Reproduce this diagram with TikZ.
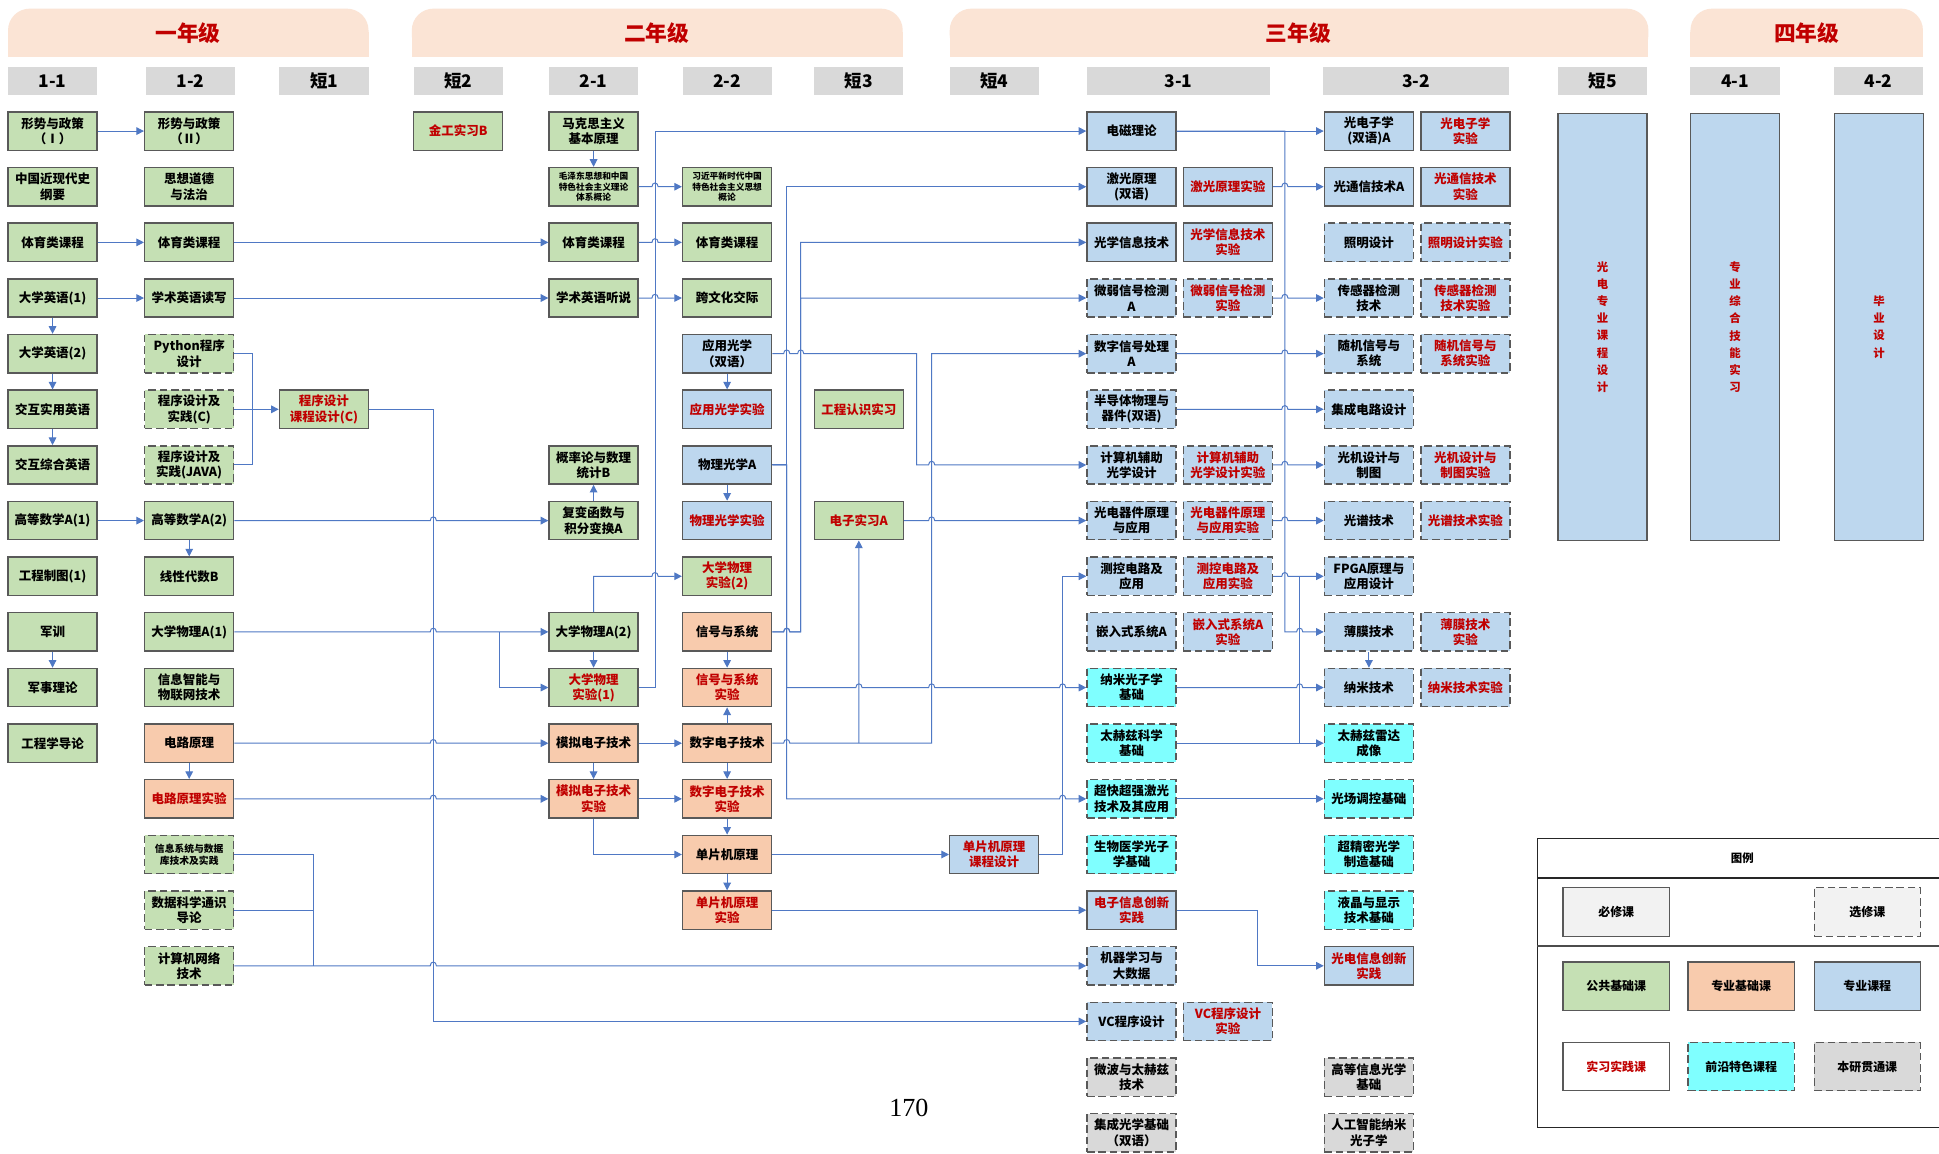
\documentclass[tikz,border=0pt]{standalone}
\usepackage{fontspec}
\setmainfont{Liberation Serif}
\newfontfamily\cjk{Noto Sans CJK SC}
\usetikzlibrary{arrows.meta}
\definecolor{gfill}{HTML}{C5E0B4}
\definecolor{ofill}{HTML}{F8CBAD}
\definecolor{bfill}{HTML}{BDD7EE}
\definecolor{cfill}{HTML}{7FFFFF}
\definecolor{yfill}{HTML}{D9D9D9}
\definecolor{lfill}{HTML}{F2F2F2}
\definecolor{redc}{HTML}{C00000}
\definecolor{bordc}{HTML}{595959}
\definecolor{linec}{HTML}{4F78C4}
\definecolor{banc}{HTML}{FBE4D5}
\definecolor{hdrc}{HTML}{D9D9D9}
\newcommand\J[2]{-- ({#1-2.5},#2) .. controls ({#1-2.5},{#2-4}) and ({#1+2.5},{#2-4}) .. ({#1+2.5},#2)}
\begin{document}
\begin{tikzpicture}[x=0.04cm,y=-0.04cm,
  box/.style={draw=bordc,line width=1.3pt,minimum width=2.88cm,minimum height=1.24cm,inner sep=1pt,align=center,
    font=\cjk\bfseries\fontsize{11.5}{14}\selectfont,text=black},
  gb/.style={box,fill=gfill}, ob/.style={box,fill=ofill}, bb/.style={box,fill=bfill},
  cb/.style={box,fill=cfill,ele}, yb/.style={box,fill=yfill,ele},
  ele/.style={dash pattern=on 7pt off 3.5pt},
  rt/.style={text=redc},
  sm/.style={font=\cjk\bfseries\fontsize{8}{9.8}\selectfont},
  smb/.style={font=\cjk\bfseries\fontsize{9}{11}\selectfont},
  ln/.style={draw=linec,line width=0.9pt},
  arr/.style={ln,-{Triangle[length=7pt,width=7pt]}},
  hdr/.style={fill=hdrc,minimum height=0.92cm,inner sep=0pt,font=\cjk\bfseries\fontsize{16}{18}\selectfont},
  ttl/.style={text=redc,font=\cjk\bfseries\fontsize{20}{22}\selectfont},
  tall/.style={box,fill=bfill,minimum height=13.8cm,text=redc,font=\cjk\bfseries\fontsize{10.5}{15.8}\selectfont},
  lb/.style={draw=bordc,line width=1.1pt,minimum width=3.44cm,minimum height=1.56cm,inner sep=0pt,font=\cjk\bfseries\fontsize{11}{13}\selectfont},
]
\clip (0,0) rectangle (1568,933);
\fill[white] (0,0) rectangle (1568,933);
% banners
\foreach \a/\b in {6.5/298,333/730,768/1333,1367/1555}{
  \fill[banc,rounded corners=0.7cm] (\a,7) rectangle (\b,46);
  \fill[banc] (\a,26) rectangle (\b,46);
}
\node[ttl] (t1) at (152,27) {一年级};
\node[ttl] (t2) at (531,27) {二年级};
\node[ttl] (t3) at (1050,27) {三年级};
\node[ttl] (t4) at (1461,27) {四年级};
% headers
\node[hdr,minimum width=2.88cm] (h1) at (42.5,65.5) {1-1};
\node[hdr,minimum width=2.88cm] (h2) at (154,65.5) {1-2};
\node[hdr,minimum width=2.88cm] (h3) at (262,65.5) {短1};
\node[hdr,minimum width=2.88cm] (h4) at (370.5,65.5) {短2};
\node[hdr,minimum width=2.88cm] (h5) at (480,65.5) {2-1};
\node[hdr,minimum width=2.88cm] (h6) at (588,65.5) {2-2};
\node[hdr,minimum width=2.88cm] (h7) at (694.5,65.5) {短3};
\node[hdr,minimum width=2.88cm] (h8) at (804,65.5) {短4};
\node[hdr,minimum width=5.92cm] (h9) at (953,65.5) {3-1};
\node[hdr,minimum width=6.0cm] (h10) at (1145,65.5) {3-2};
\node[hdr,minimum width=2.88cm] (h11) at (1296,65.5) {短5};
\node[hdr,minimum width=2.88cm] (h12) at (1403,65.5) {4-1};
\node[hdr,minimum width=2.88cm] (h13) at (1519,65.5) {4-2};
% column 1-1
\node[gb] (A1) at (42.5,106) {形势与政策\\（Ⅰ）};
\node[gb] (A2) at (42.5,151) {中国近现代史\\纲要};
\node[gb] (A3) at (42.5,196) {体育类课程};
\node[gb] (A4) at (42.5,241) {大学英语(1)};
\node[gb] (A5) at (42.5,286) {大学英语(2)};
\node[gb] (A6) at (42.5,331) {交互实用英语};
\node[gb] (A7) at (42.5,376) {交互综合英语};
\node[gb] (A8) at (42.5,421) {高等数学A(1)};
\node[gb] (A9) at (42.5,466) {工程制图(1)};
\node[gb] (A10) at (42.5,511) {军训};
\node[gb] (A11) at (42.5,556) {军事理论};
\node[gb] (A12) at (42.5,601) {工程学导论};
% column 1-2
\node[gb] (B1) at (153,106) {形势与政策\\（Ⅱ）};
\node[gb] (B2) at (153,151) {思想道德\\与法治};
\node[gb] (B3) at (153,196) {体育类课程};
\node[gb] (B4) at (153,241) {学术英语读写};
\node[gb,ele] (B5) at (153,286) {Python程序\\设计};
\node[gb,ele] (B6) at (153,331) {程序设计及\\实践(C)};
\node[gb,ele] (B7) at (153,376) {程序设计及\\实践(JAVA)};
\node[gb] (B8) at (153,421) {高等数学A(2)};
\node[gb] (B9) at (153,466) {线性代数B};
\node[gb] (B10) at (153,511) {大学物理A(1)};
\node[gb] (B11) at (153,556) {信息智能与\\物联网技术};
\node[ob] (B12) at (153,601) {电路原理};
\node[ob,rt] (B13) at (153,646) {电路原理实验};
\node[gb,ele,smb] (B14) at (153,691) {信息系统与数据\\库技术及实践};
\node[gb,ele] (B15) at (153,736) {数据科学通识\\导论};
\node[gb,ele] (B16) at (153,781) {计算机网络\\技术};
% short columns
\node[gb,rt] (S1) at (262,331) {程序设计\\课程设计(C)};
\node[gb,rt] (S2) at (370.5,106) {金工实习B};
\node[gb,rt] (S3A) at (694.5,331) {工程认识实习};
\node[gb,rt] (S3B) at (694.5,421) {电子实习A};
\node[bb,rt] (S4) at (804,691) {单片机原理\\课程设计};
% column 2-1
\node[gb] (C1) at (480,106) {马克思主义\\基本原理};
\node[gb,sm] (C2) at (480,151) {毛泽东思想和中国\\特色社会主义理论\\体系概论};
\node[gb] (C3) at (480,196) {体育类课程};
\node[gb] (C4) at (480,241) {学术英语听说};
\node[gb] (C7) at (480,376) {概率论与数理\\统计B};
\node[gb] (C8) at (480,421) {复变函数与\\积分变换A};
\node[gb] (C10) at (480,511) {大学物理A(2)};
\node[gb,rt] (C11) at (480,556) {大学物理\\实验(1)};
\node[ob] (C12) at (480,601) {模拟电子技术};
\node[ob,rt] (C13) at (480,646) {模拟电子技术\\实验};
% column 2-2
\node[gb,sm] (D2) at (588,151) {习近平新时代中国\\特色社会主义思想\\概论};
\node[gb] (D3) at (588,196) {体育类课程};
\node[gb] (D4) at (588,241) {跨文化交际};
\node[bb] (D5) at (588,286) {应用光学\\（双语）};
\node[bb,rt] (D6) at (588,331) {应用光学实验};
\node[bb] (D7) at (588,376) {物理光学A};
\node[bb,rt] (D8) at (588,421) {物理光学实验};
\node[gb,rt] (D9) at (588,466) {大学物理\\实验(2)};
\node[ob] (D10) at (588,511) {信号与系统};
\node[ob,rt] (D11) at (588,556) {信号与系统\\实验};
\node[ob] (D12) at (588,601) {数字电子技术};
\node[ob,rt] (D13) at (588,646) {数字电子技术\\实验};
\node[ob] (D14) at (588,691) {单片机原理};
\node[ob,rt] (D15) at (588,736) {单片机原理\\实验};
% column 3-1 a
\node[bb] (E1) at (915,106) {电磁理论};
\node[bb] (E2) at (915,151) {激光原理\\(双语)};
\node[bb] (E3) at (915,196) {光学信息技术};
\node[bb,ele] (E4) at (915,241) {微弱信号检测\\A};
\node[bb,ele] (E5) at (915,286) {数字信号处理\\A};
\node[bb,ele] (E6) at (915,331) {半导体物理与\\器件(双语)};
\node[bb,ele] (E7) at (915,376) {计算机辅助\\光学设计};
\node[bb,ele] (E8) at (915,421) {光电器件原理\\与应用};
\node[bb,ele] (E9) at (915,466) {测控电路及\\应用};
\node[bb,ele] (E10) at (915,511) {嵌入式系统A};
\node[cb] (E11) at (915,556) {纳米光子学\\基础};
\node[cb] (E12) at (915,601) {太赫兹科学\\基础};
\node[cb] (E13) at (915,646) {超快超强激光\\技术及其应用};
\node[cb] (E14) at (915,691) {生物医学光子\\学基础};
\node[bb,rt] (E15) at (915,736) {电子信息创新\\实践};
\node[bb,ele] (E16) at (915,781) {机器学习与\\大数据};
\node[bb,ele] (E17) at (915,826) {VC程序设计};
\node[yb] (E18) at (915,871) {微波与太赫兹\\技术};
\node[yb] (E19) at (915,916) {集成光学基础\\（双语）};
% column 3-1 b
\node[bb,rt] (F2) at (993,151) {激光原理实验};
\node[bb,rt] (F3) at (993,196) {光学信息技术\\实验};
\node[bb,ele,rt] (F4) at (993,241) {微弱信号检测\\实验};
\node[bb,ele,rt] (F7) at (993,376) {计算机辅助\\光学设计实验};
\node[bb,ele,rt] (F8) at (993,421) {光电器件原理\\与应用实验};
\node[bb,ele,rt] (F9) at (993,466) {测控电路及\\应用实验};
\node[bb,ele,rt] (F10) at (993,511) {嵌入式系统A\\实验};
\node[bb,ele,rt] (F17) at (993,826) {VC程序设计\\实验};
% column 3-2 a
\node[bb] (G1) at (1107,106) {光电子学\\(双语)A};
\node[bb] (G2) at (1107,151) {光通信技术A};
\node[bb,ele] (G3) at (1107,196) {照明设计};
\node[bb,ele] (G4) at (1107,241) {传感器检测\\技术};
\node[bb,ele] (G5) at (1107,286) {随机信号与\\系统};
\node[bb,ele] (G6) at (1107,331) {集成电路设计};
\node[bb,ele] (G7) at (1107,376) {光机设计与\\制图};
\node[bb,ele] (G8) at (1107,421) {光谱技术};
\node[bb,ele] (G9) at (1107,466) {FPGA原理与\\应用设计};
\node[bb,ele] (G10) at (1107,511) {薄膜技术};
\node[bb,ele] (G11) at (1107,556) {纳米技术};
\node[cb] (G12) at (1107,601) {太赫兹雷达\\成像};
\node[cb] (G13) at (1107,646) {光场调控基础};
\node[cb] (G14) at (1107,691) {超精密光学\\制造基础};
\node[cb] (G15) at (1107,736) {液晶与显示\\技术基础};
\node[bb,rt] (G16) at (1107,781) {光电信息创新\\实践};
\node[yb] (G18) at (1107,871) {高等信息光学\\基础};
\node[yb] (G19) at (1107,916) {人工智能纳米\\光子学};
% column 3-2 b
\node[bb,rt] (H1) at (1185,106) {光电子学\\实验};
\node[bb,rt] (H2) at (1185,151) {光通信技术\\实验};
\node[bb,ele,rt] (H3) at (1185,196) {照明设计实验};
\node[bb,ele,rt] (H4) at (1185,241) {传感器检测\\技术实验};
\node[bb,ele,rt] (H5) at (1185,286) {随机信号与\\系统实验};
\node[bb,ele,rt] (H7) at (1185,376) {光机设计与\\制图实验};
\node[bb,ele,rt] (H8) at (1185,421) {光谱技术实验};
\node[bb,ele,rt] (H10) at (1185,511) {薄膜技术\\实验};
\node[bb,ele,rt] (H11) at (1185,556) {纳米技术实验};
% tall boxes
\node[tall] (K1) at (1296,264.5) {光\\电\\专\\业\\课\\程\\设\\计};
\node[tall] (K2) at (1403,264.5) {专\\业\\综\\合\\技\\能\\实\\习};
\node[tall] (K3) at (1519.5,264.5) {毕\\业\\设\\计};
% page number
\node[font=\fontsize{24}{26}\selectfont] (pg) at (735,896) {170};
% legend
\draw[line width=1.1pt,draw=black!85] (1243,678) rectangle (1600,912);
\draw[line width=1.1pt,draw=black!85] (1243,710) -- (1600,710);
\draw[line width=1.1pt,draw=black!70] (1243,765) -- (1600,765);
\node[font=\cjk\bfseries\fontsize{10.5}{12}\selectfont] (lt) at (1409,694) {图例};
\node[lb,fill=lfill] (L1) at (1307,737.5) {必修课};
\node[lb,fill=lfill,ele] (L2) at (1510,737.5) {选修课};
\node[lb,fill=gfill] (L3) at (1307,797.5) {公共基础课};
\node[lb,fill=ofill] (L4) at (1408,797.5) {专业基础课};
\node[lb,fill=bfill] (L5) at (1510,797.5) {专业课程};
\node[lb,fill=white,text=redc] (L6) at (1307,862.5) {实习实践课};
\node[lb,fill=cfill,ele] (L7) at (1408,862.5) {前沿特色课程};
\node[lb,fill=yfill,ele] (L8) at (1510,862.5) {本研贯通课};
% ---------- connectors ----------
\draw[arr] (A1.east) -- (B1.west);
\draw[arr] (A3.east) -- (B3.west);
\draw[arr] (A4.east) -- (B4.west);
\draw[arr] (A4.south) -- (A5.north);
\draw[arr] (A5.south) -- (A6.north);
\draw[arr] (A6.south) -- (A7.north);
\draw[arr] (A8.east) -- (B8.west);
\draw[arr] (A10.south) -- (A11.north);
\draw[arr] (B8.south) -- (B9.north);
\draw[arr] (B12.south) -- (B13.north);
\coordinate (pyv) at (204.5,0);
\draw[ln] (B5.east) -| (pyv |- B7.east) -- (B7.east);
\draw[arr] (B6.east) -- (S1.west);
\draw[arr] (S1.east) -| (350.4,826) -- (E17.west);
\draw[arr] (B3.east) -- (C3.west);
\draw[arr] (C3.east) \J{529.7}{196} -- (D3.west);
\draw[arr] (B4.east) -- (C4.west);
\draw[arr] (C4.east) \J{529.7}{241} -- (D4.west);
\draw[arr] (C1.south) -- (C2.north);
\draw[arr] (C2.east) \J{529.7}{151} -- (D2.west);
\draw[arr] (B8.east) \J{350.4}{421} -- (C8.west);
\draw[arr] (C8.north) -- (C7.south);
\draw[arr] (B10.east) \J{350.4}{511} -- (C10.west);
\coordinate (pb) at (403.8,511);
\draw[arr] (pb) |- (C11.west);
\draw[arr] (C10.south) -- (C11.north);
\draw[arr] (C10.north) -- (480,466) \J{529.7}{466} -- (D9.west);
\draw[arr] (C11.east) -| (529.7,106) -- (E1.west);
\draw[arr] (B12.east) \J{350.4}{601} -- (C12.west);
\draw[arr] (B13.east) \J{350.4}{646} -- (C13.west);
\draw[arr] (C12.east) -- (D12.west);
\draw[arr] (C12.south) -- (C13.north);
\draw[arr] (C13.east) -- (D13.west);
\draw[arr] (C13.south) |- (D14.west);
\draw[arr] (D10.south) -- (D11.north);
\draw[arr] (D12.north) -- (D11.south);
\draw[arr] (D12.south) -- (D13.north);
\draw[arr] (D13.south) -- (D14.north);
\draw[arr] (D14.south) -- (D15.north);
\draw[arr] (D5.south) -- (D6.north);
\draw[arr] (D7.south) -- (D8.north);
\draw[arr] (D14.east) -- (S4.west);
\draw[arr] (S4.east) -| (859.3,466) -- (E9.west);
\draw[arr] (D15.east) -- (E15.west);
\draw[ln] (B14.east) -| (253.9,781);
\draw[ln] (B15.east) -- (253.9,736);
\draw[arr] (B16.east) \J{350.4}{781} -- (E16.west);
\draw[arr] (D7.east) -| (636.2,151) -- (E2.west);
\draw[arr] (D7.east) -| (636.2,556) \J{694.6}{556} \J{753.4}{556} \J{859.3}{556} -- (E11.west);
\draw[arr] (D7.east) -| (636.2,646) \J{859.3}{646} -- (E13.west);
\draw[arr] (D10.east) \J{636.2}{511} -| (647.5,196) -- (E3.west);
\draw[arr] (D10.east) \J{636.2}{511} -| (647.5,241) -- (E4.west);
\draw[arr] (D5.east) \J{636.2}{286} \J{647.5}{286} -| (741.3,376) \J{753.4}{376} -- (E7.west);
\draw[arr] (D12.east) \J{636.2}{601} -| (753.4,286) -- (E5.west);
\coordinate (ej) at (694.6,601);
\draw[arr] (ej) -- (S3B.south);
\draw[arr] (S3B.east) \J{753.4}{421} -- (E8.west);
\draw[arr] (E1.east) -- (G1.west);
\draw[arr] (E1.east) -| (1039,511) \J{1051}{511} -- (G10.west);
\draw[arr] (F2.east) \J{1039}{151} -- (G2.west);
\draw[arr] (F4.east) \J{1039}{241} -- (G4.west);
\draw[arr] (E5.east) \J{1039}{286} -- (G5.west);
\draw[arr] (E6.east) \J{1039}{331} -- (G6.west);
\draw[arr] (F7.east) \J{1039}{376} -- (G7.west);
\draw[arr] (F8.east) \J{1039}{421} -- (G8.west);
\draw[arr] (F9.east) \J{1039}{466} -- (G9.west);
\draw[arr] (E11.east) \J{1051}{556} -- (G11.west);
\draw[arr] (E12.east) -- (G12.west);
\coordinate (ta) at (1051,466);
\coordinate (tb) at (1051,601);
\draw[ln] (ta) -- (tb);
\draw[arr] (E13.east) -- (G13.west);
\draw[arr] (G10.south) -- (G11.north);
\draw[arr] (E15.east) -| (1017,781) -- (G16.west);
\end{tikzpicture}
\end{document}
